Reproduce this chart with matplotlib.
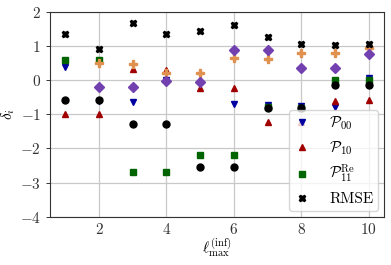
import numpy as np
import matplotlib
matplotlib.use("Agg")
import matplotlib.pyplot as plt

plt.rcParams["mathtext.fontset"] = "cm"
plt.rcParams["font.family"] = "serif"
plt.rcParams["font.serif"] = ["cmr10", "DejaVu Serif"]
plt.rcParams["axes.formatter.use_mathtext"] = True

nan = np.nan
lmax = np.arange(1, 11)

# values
p00 = [0.40, -0.62, -0.64, 0.00, -0.10, -0.71, -0.73, -0.77, -0.78, 0.05]
p10 = [-0.98, -0.98, 0.32, 0.31, -0.24, -0.24, -1.21, -1.21, -0.61, -0.59]
p11re = [0.59, 0.59, -2.69, -2.69, -2.18, -2.18, -0.78, -0.80, 0.00, 0.00]
plus_vals = [nan, 0.49, 0.47, 0.20, 0.20, 0.64, 0.62, 0.80, 0.80, 0.95]
diamond_vals = [nan, -0.21, -0.21, -0.03, -0.05, 0.88, 0.88, 0.37, 0.37, 0.76]
circle_vals = [-0.59, -0.59, -1.29, -1.29, -2.53, -2.53, -0.80, -0.80, -0.15, -0.15]
rmse = [1.35, 0.91, 1.67, 1.35, 1.44, 1.62, 1.26, 1.06, 1.03, 1.06]

fig = plt.figure(figsize=(3.91, 2.65), dpi=100)
ax = fig.add_axes([0.128, 0.182, 0.854, 0.773])

ms = 5
ax.plot(lmax, p00, "v", color="#0000a0", ms=ms, ls="none", label=r"$\mathcal{P}_{00}$")
ax.plot(lmax, p10, "^", color="#a00000", ms=ms, ls="none", label=r"$\mathcal{P}_{10}$")
ax.plot(lmax, p11re, "s", color="#006400", ms=ms, ls="none", label=r"$\mathcal{P}_{11}^{\mathrm{Re}}$")
ax.plot(lmax, plus_vals, "P", color="#e0914f", ms=ms + 1, ls="none")
ax.plot(lmax, diamond_vals, "D", color="#7340b0", ms=ms, ls="none")
ax.plot(lmax, circle_vals, "o", color="black", ms=ms, ls="none")
ax.plot(lmax, rmse, "X", color="black", ms=ms, ls="none", label="RMSE")

ax.set_ylim(-4, 2)
ax.set_xticks([2, 4, 6, 8, 10])
ax.set_yticks([-4, -3, -2, -1, 0, 1, 2])
ax.grid(True, color="#c8c8c8", lw=0.9)
ax.set_axisbelow(True)
for s in ax.spines.values():
    s.set_color("#333333")
ax.tick_params(labelsize=11, length=3, width=0.7, colors="#333333", labelcolor="#333333")
ax.tick_params(axis="x", length=0)

ax.set_ylabel(r"$\delta_i$", fontsize=11)
ax.yaxis.set_label_coords(-0.1, 0.5)
ax.set_xlabel(r"$\ell_{\max}^{(\mathrm{inf})}$", fontsize=11, labelpad=0)

ax.legend(loc="lower right", fontsize=11, handlelength=1.0, handletextpad=1.3,
          borderpad=0.3, labelspacing=0.45, framealpha=0.8, edgecolor="#cccccc",
          borderaxespad=0.4)

fig.savefig("out.png", dpi=100)
